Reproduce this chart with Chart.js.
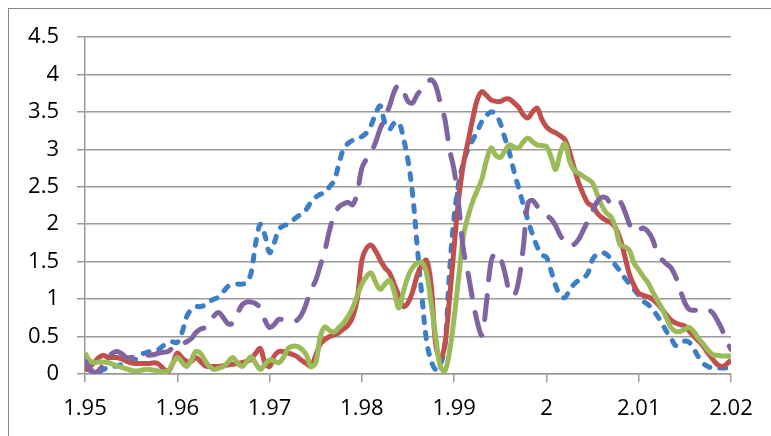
<!DOCTYPE html>
<html><head><meta charset="utf-8">
<script src="https://cdn.jsdelivr.net/npm/chart.js@4.4.0/dist/chart.umd.min.js"></script>
<style>
html,body{margin:0;padding:0;background:#fff;}
#wrap{position:relative;width:771px;height:436px;overflow:hidden;background:#fff;}
#frame{position:absolute;left:8px;top:8px;width:800px;height:500px;border:1px solid #878787;box-sizing:border-box;}
canvas{position:absolute;left:0;top:0;}
</style>
</head><body>
<div id="wrap"><div id="frame"></div><canvas id="c" width="771" height="436"></canvas></div>
<script>
const xValues = [
1.95,1.9505,1.951,1.9515,1.952,1.9525,1.953,1.9535,1.954,1.9545,
1.955,1.9555,1.956,1.9565,1.957,1.9575,1.958,1.9585,1.959,1.9595,
1.96,1.9605,1.961,1.9615,1.962,1.9625,1.963,1.9635,1.964,1.9645,
1.965,1.9655,1.966,1.9665,1.967,1.9675,1.968,1.9685,1.969,1.9695,
1.97,1.9705,1.971,1.9715,1.972,1.9725,1.973,1.9735,1.974,1.9745,
1.975,1.9755,1.976,1.9765,1.977,1.9775,1.978,1.9785,1.979,1.9795,
1.98,1.9805,1.981,1.9815,1.982,1.9825,1.983,1.9835,1.984,1.9845,
1.985,1.9855,1.986,1.9865,1.987,1.9875,1.988,1.9885,1.989,1.9895,
1.99,1.9905,1.991,1.9915,1.992,1.9925,1.993,1.9935,1.994,1.9945,
1.995,1.9955,1.996,1.9965,1.997,1.9975,1.998,1.9985,1.999,1.9995,
2.0,2.0005,2.001,2.0015,2.002,2.0025,2.003,2.0035,2.004,2.0045,
2.005,2.0055,2.006,2.0065,2.007,2.0075,2.008,2.0085,2.009,2.0095,
2.01,2.0105,2.011,2.0115,2.012,2.0125,2.013,2.0135,2.014,2.0145,
2.015,2.0155,2.016,2.0165,2.017,2.0175,2.018,2.0185,2.019,2.0195,
2.02];

const redValues = [
0.05,0.10,0.15,0.22,0.25,0.22,0.22,0.22,0.20,0.17,
0.15,0.14,0.14,0.14,0.14,0.15,0.13,0.07,0.03,0.14,
0.28,0.22,0.17,0.17,0.22,0.17,0.11,0.10,0.10,0.10,
0.11,0.12,0.13,0.14,0.15,0.17,0.20,0.28,0.34,0.15,
0.10,0.24,0.30,0.30,0.28,0.26,0.23,0.18,0.14,0.10,
0.25,0.40,0.46,0.50,0.52,0.55,0.60,0.65,0.76,1.00,
1.52,1.68,1.72,1.64,1.52,1.42,1.35,1.20,1.05,0.90,
0.95,1.10,1.32,1.45,1.52,1.20,0.40,0.20,0.40,1.00,
1.70,2.35,2.80,3.10,3.40,3.66,3.77,3.72,3.66,3.64,
3.64,3.67,3.67,3.62,3.56,3.46,3.42,3.50,3.55,3.40,
3.30,3.25,3.22,3.18,3.13,2.97,2.75,2.55,2.40,2.28,
2.24,2.15,2.09,2.05,2.02,1.95,1.80,1.57,1.33,1.18,
1.08,1.05,1.03,1.00,0.94,0.87,0.79,0.72,0.68,0.66,
0.64,0.57,0.50,0.44,0.37,0.28,0.20,0.13,0.10,0.13,
0.19];

const greenValues = [
0.28,0.18,0.15,0.16,0.16,0.15,0.13,0.11,0.09,0.07,
0.05,0.04,0.05,0.06,0.06,0.05,0.04,0.03,0.04,0.14,
0.22,0.16,0.10,0.18,0.30,0.28,0.18,0.10,0.06,0.08,
0.10,0.16,0.22,0.15,0.10,0.16,0.23,0.14,0.06,0.13,
0.19,0.17,0.15,0.22,0.34,0.37,0.37,0.33,0.25,0.10,
0.15,0.50,0.63,0.58,0.56,0.62,0.68,0.77,0.88,1.05,
1.20,1.30,1.35,1.22,1.13,1.20,1.25,1.10,0.88,1.10,
1.30,1.42,1.48,1.49,1.35,0.95,0.50,0.10,0.04,0.30,
0.75,1.30,1.84,2.10,2.30,2.45,2.60,2.85,3.02,2.92,
2.89,2.98,3.06,3.03,3.02,3.10,3.15,3.10,3.06,3.05,
3.04,2.90,2.73,2.95,3.08,2.85,2.72,2.68,2.64,2.60,
2.55,2.40,2.25,2.15,2.10,1.95,1.72,1.70,1.65,1.48,
1.39,1.30,1.22,1.10,0.99,0.88,0.75,0.62,0.57,0.57,
0.60,0.62,0.56,0.47,0.40,0.32,0.26,0.25,0.24,0.24,
0.24];

const blueValues = [
0.08,0.05,0.02,0.03,0.06,0.09,0.10,0.11,0.13,0.15,
0.16,0.20,0.26,0.28,0.30,0.31,0.33,0.38,0.42,0.43,
0.42,0.55,0.76,0.86,0.90,0.90,0.92,0.97,1.00,1.03,
1.10,1.17,1.19,1.20,1.20,1.22,1.35,1.75,2.00,1.85,
1.62,1.75,1.93,1.98,2.00,2.05,2.10,2.14,2.20,2.30,
2.36,2.40,2.42,2.50,2.58,2.80,3.00,3.08,3.12,3.14,
3.17,3.22,3.32,3.48,3.58,3.35,3.27,3.35,3.36,3.15,
2.85,2.40,1.70,1.05,0.45,0.18,0.06,0.12,0.38,1.37,
2.10,2.55,2.82,3.00,3.12,3.24,3.37,3.45,3.50,3.47,
3.35,3.15,2.95,2.70,2.48,2.26,2.05,1.86,1.70,1.59,
1.56,1.38,1.18,1.05,1.02,1.12,1.20,1.25,1.28,1.35,
1.53,1.60,1.62,1.60,1.53,1.45,1.37,1.28,1.20,1.13,
1.05,0.97,0.93,0.86,0.78,0.68,0.57,0.48,0.38,0.40,
0.44,0.42,0.33,0.22,0.14,0.10,0.08,0.08,0.08,0.08,
0.08];

const purpleValues = [
0.17,0.08,0.02,0.05,0.13,0.22,0.28,0.30,0.27,0.22,
0.22,0.24,0.24,0.25,0.25,0.26,0.28,0.29,0.30,0.35,
0.38,0.40,0.43,0.47,0.55,0.60,0.62,0.70,0.78,0.82,
0.75,0.67,0.68,0.80,0.92,0.96,0.96,0.94,0.88,0.72,
0.62,0.66,0.73,0.72,0.70,0.70,0.72,0.80,0.95,1.12,
1.25,1.45,1.65,1.92,2.12,2.23,2.27,2.29,2.26,2.42,
2.75,2.87,2.96,3.10,3.28,3.42,3.58,3.77,3.86,3.78,
3.64,3.62,3.73,3.80,3.87,3.93,3.85,3.62,3.40,3.00,
2.72,2.25,1.66,1.35,1.00,0.70,0.52,0.95,1.50,1.62,
1.55,1.35,1.10,1.05,1.25,1.70,2.28,2.32,2.24,2.18,
2.12,2.07,1.98,1.85,1.77,1.72,1.73,1.80,1.92,2.05,
2.18,2.30,2.36,2.35,2.27,2.32,2.30,2.17,2.00,1.90,
1.92,1.95,1.90,1.80,1.62,1.53,1.47,1.42,1.30,1.12,
0.95,0.86,0.85,0.86,0.88,0.86,0.82,0.72,0.60,0.45,
0.33];

const xTickValues = [1.95,1.96,1.97,1.98,1.99,2.00,2.01,2.02];
const xTickLabels = ['1.95','1.96','1.97','1.98','1.99','2','2.01','2.02'];
const yTickValues = [0,0.5,1,1.5,2,2.5,3,3.5,4,4.5];
const yTickLabels = ['0','0.5','1','1.5','2','2.5','3','3.5','4','4.5'];

const toPts = ys => xValues.map((x, i) => ({x: x, y: ys[i]}));
const gridCol = '#9a9a9a';
const tickFont = {family: "'Open Sans', sans-serif", size: 22};

new Chart(document.getElementById('c'), {
  type: 'line',
  data: {
    datasets: [
      {label: 'Series 4', data: toPts(purpleValues), borderColor: '#8064A2', borderWidth: 5, borderDash: [24, 16], borderCapStyle: 'round'},
      {label: 'Series 3', data: toPts(greenValues), borderColor: '#9BBB59', borderWidth: 5},
      {label: 'Series 2', data: toPts(redValues), borderColor: '#C0504D', borderWidth: 5},
      {label: 'Series 1', data: toPts(blueValues), borderColor: '#3D7EC8', borderWidth: 5, borderDash: [6, 10], borderCapStyle: 'round'}
    ]
  },
  options: {
    responsive: false,
    animation: false,
    devicePixelRatio: 1,
    elements: {
      point: {radius: 0},
      line: {tension: 0.35, fill: false, borderJoinStyle: 'round'}
    },
    layout: {padding: {top: 37, right: 40, bottom: 0, left: 0}},
    plugins: {legend: {display: false}, tooltip: {enabled: false}, title: {display: false}},
    scales: {
      x: {
        type: 'linear', min: 1.95, max: 2.02,
        afterFit(s) { s.height = 62; },
        afterBuildTicks(s) { s.ticks = xTickValues.map(v => ({value: v})); },
        ticks: {callback: (v, i) => xTickLabels[i], font: tickFont, color: '#000', padding: 14, maxRotation: 0, autoSkip: false},
        grid: {drawOnChartArea: false, drawTicks: true, tickLength: 8, color: gridCol, lineWidth: 1.5},
        border: {display: true, color: gridCol, width: 1.5}
      },
      y: {
        type: 'linear', min: 0, max: 4.5,
        afterFit(s) { s.width = 85; },
        afterBuildTicks(s) { s.ticks = yTickValues.map(v => ({value: v})); },
        ticks: {callback: (v, i) => yTickLabels[i], font: tickFont, color: '#000', padding: 18, autoSkip: false},
        grid: {drawOnChartArea: true, drawTicks: true, tickLength: 8, color: gridCol, lineWidth: 1.5},
        border: {display: true, color: gridCol, width: 1.5}
      }
    }
  }
});
</script>
</body></html>
